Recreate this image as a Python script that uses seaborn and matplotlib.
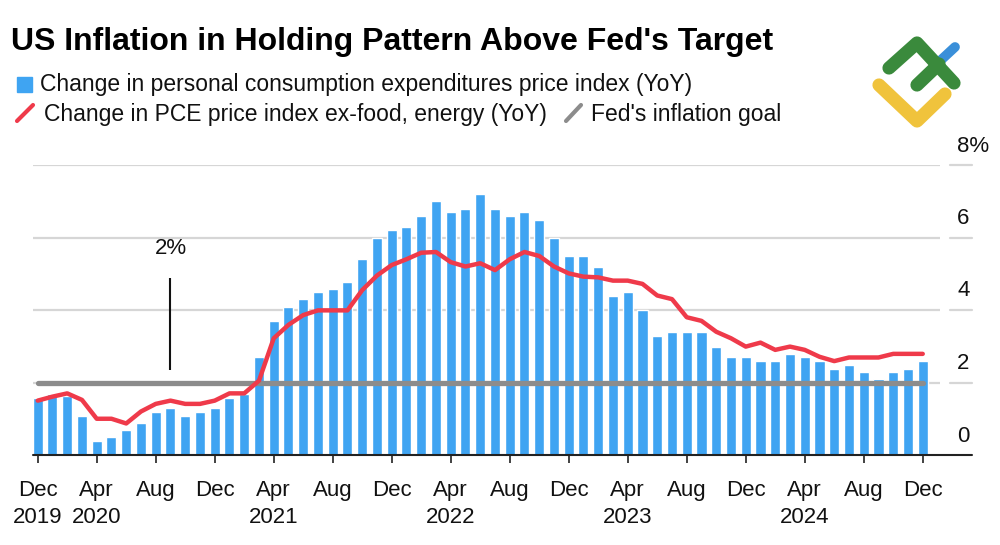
import numpy as np
import pandas as pd
import matplotlib
matplotlib.use("Agg")
import matplotlib.pyplot as plt
from matplotlib.lines import Line2D
from matplotlib.patches import Rectangle
import seaborn as sns

# monthly values, Dec 2019 .. Dec 2024
months = pd.date_range("2019-12-01", "2024-12-01", freq="MS")
pce = [1.58, 1.68, 1.64, 1.08, 0.39, 0.49, 0.68, 0.88, 1.19, 1.29, 1.08, 1.19,
       1.29, 1.58, 1.68, 2.69, 3.69, 4.09, 4.29, 4.49, 4.59,
       4.78, 5.4, 6.0, 6.2, 6.3, 6.59, 7.0, 6.69, 6.79, 7.2, 6.79, 6.59,
       6.69, 6.49, 6.0, 5.5, 5.5, 5.2, 4.4, 4.49, 3.99, 3.28,
       3.39, 3.39, 3.39, 2.98, 2.69, 2.69, 2.58, 2.58, 2.79, 2.69, 2.58,
       2.38, 2.48, 2.28, 2.09, 2.28, 2.38, 2.58]
core = [1.5, 1.61, 1.7, 1.52, 1.0, 1.0, 0.87, 1.2, 1.41, 1.5, 1.41, 1.41,
        1.5, 1.7, 1.7, 2.05, 3.22, 3.59, 3.86, 3.99, 3.99,
        3.99, 4.55, 4.95, 5.24, 5.4, 5.58, 5.6, 5.32, 5.2, 5.29, 5.1, 5.4,
        5.6, 5.49, 5.2, 5.01, 4.92, 4.9, 4.81, 4.81, 4.72, 4.4,
        4.3, 3.8, 3.7, 3.4, 3.22, 2.99, 3.1, 2.9, 2.99, 2.9, 2.71,
        2.59, 2.69, 2.69, 2.69, 2.79, 2.79, 2.79]
goal = 2.0
y_ticks = [0, 2, 4, 6, 8]
y_labels = ["0", "2", "4", "6", "8%"]
tick_every = 4
year_months = [0, 4, 16, 28, 40, 52]   # ticks that carry a year line

# leader for the "2%" note
note_x, note_text_y, note_top, note_bottom = 9, 5.71, 4.88, 2.34

BLUE = "#3fa4f2"
RED = "#ef3a4a"
GRAY = "#8c8c8c"
GRID = "#d6d6d6"

sns.set_theme(style="white")
plt.rcParams["font.family"] = ["Liberation Sans", "DejaVu Sans"]

df = pd.DataFrame({"pos": np.arange(len(months)), "pce": pce, "core": core})

fig = plt.figure(figsize=(10, 5.45), dpi=100)
ax = fig.add_axes([0.033, 1 - 455 / 545, 0.907, 290 / 545])

for v in y_ticks[1:]:
    ax.axhline(v, color=GRID, lw=1.6, zorder=0)
    ax.add_line(Line2D([1.011, 1.035], [v, v], color=GRID, lw=1.6,
                       transform=ax.get_yaxis_transform(), clip_on=False))

sns.barplot(data=df, x="pos", y="pce", native_scale=True, color=BLUE,
            saturation=1, width=0.68, ax=ax, zorder=2)
ax.plot([df.pos.iloc[0], df.pos.iloc[-1]], [goal, goal], color=GRAY, lw=3.8,
        solid_capstyle="round", zorder=3)
sns.lineplot(data=df, x="pos", y="core", color=RED, lw=3.2, ax=ax, zorder=4)

ax.set_xlim(-0.32, 61.17)
ax.set_ylim(0, 8)
for s in ax.spines.values():
    s.set_visible(False)
ax.add_line(Line2D([0, 1.035], [0, 0], color="#222222", lw=1.5,
                   transform=ax.get_yaxis_transform(), clip_on=False, zorder=5))

pos_ticks = list(range(0, len(months), tick_every))
labels = []
for p in pos_ticks:
    m = months[p]
    lab = m.strftime("%b")
    if p in year_months:
        lab += "\n" + m.strftime("%Y")
    labels.append(lab)
ax.set_xticks(pos_ticks)
ax.set_xticklabels(labels, fontsize=16, linespacing=1.36, va="top")
ax.tick_params(axis="x", direction="out", length=6, width=1.3,
               color="#333333", pad=12, labelcolor="#111111", bottom=True)
ax.set_yticks([])
ax.set_xlabel("")
ax.set_ylabel("")

for v, lab in zip(y_ticks, y_labels):
    ax.annotate(lab, xy=(1.019, v), xycoords=ax.get_yaxis_transform(),
                xytext=(0, 19), textcoords="offset pixels", ha="left",
                va="center", fontsize=16, color="#111111")

ax.vlines(note_x, note_bottom, note_top, color="#111111", lw=1.5, zorder=5)
ax.text(note_x, note_text_y, "2%", ha="center", va="center", fontsize=16,
        color="#111111")

# title and legend
fig.text(0.011, 1 - 42 / 545, "US Inflation in Holding Pattern Above Fed's Target",
         fontsize=23, fontweight="bold", va="center", color="#000000")
fig.patches.append(Rectangle((17 / 1000, 1 - 92 / 545), 15 / 1000, 15 / 545,
                             transform=fig.transFigure, color=BLUE))
fig.text(0.040, 1 - 84 / 545,
         "Change in personal consumption expenditures price index (YoY)",
         fontsize=16.5, va="center", color="#111111")
fig.lines.append(Line2D([17 / 1000, 33 / 1000], [1 - 121 / 545, 1 - 105 / 545],
                        transform=fig.transFigure, color=RED, lw=3,
                        solid_capstyle="round"))
fig.text(0.044, 1 - 114 / 545, "Change in PCE price index ex-food, energy (YoY)",
         fontsize=16.5, va="center", color="#111111")
fig.lines.append(Line2D([566 / 1000, 581 / 1000], [1 - 121 / 545, 1 - 105 / 545],
                        transform=fig.transFigure, color=GRAY, lw=3,
                        solid_capstyle="round"))
fig.text(0.591, 1 - 114 / 545, "Fed's inflation goal",
         fontsize=16.5, va="center", color="#111111")

# watermark logo
def logo_stroke(xs, ys, color, lw):
    fig.lines.append(Line2D([x / 1000 for x in xs], [1 - y / 545 for y in ys],
                            transform=fig.transFigure, color=color, lw=lw,
                            solid_capstyle="round", solid_joinstyle="round"))

logo_stroke([941, 955], [60, 47], "#3a8fd9", 7)
logo_stroke([889, 917, 954], [68, 43, 83], "#3a8a3c", 9.5)
logo_stroke([917, 939], [85, 64], "#3a8a3c", 9.5)
logo_stroke([879, 917, 945], [85, 121, 94], "#f0c33c", 9.5)

fig.savefig("out.png", dpi=100)
